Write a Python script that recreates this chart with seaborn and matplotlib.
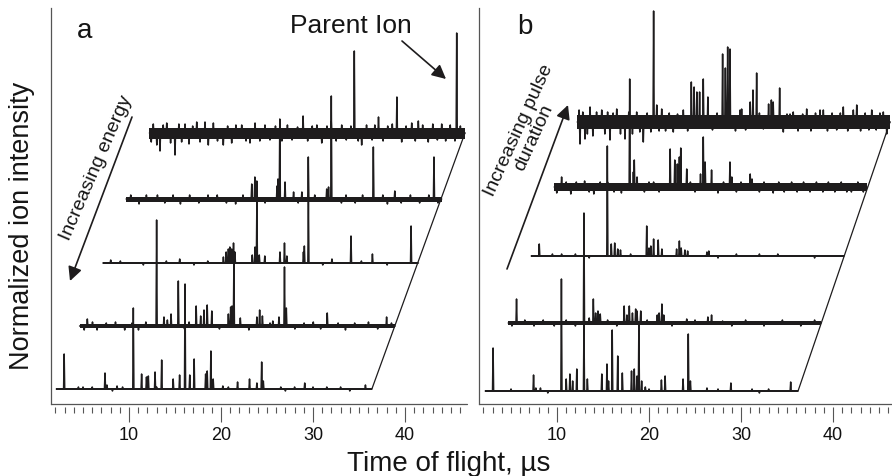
import matplotlib
matplotlib.use("Agg")
import matplotlib.pyplot as plt
from matplotlib.patches import FancyArrowPatch
import numpy as np
import pandas as pd
import seaborn as sns
from matplotlib.ticker import FixedLocator

sns.set_theme(style="white")
plt.rcParams["font.family"] = ["Liberation Sans", "DejaVu Sans"]

# ---------------- data (time of flight in µs, intensity in arbitrary units) -------------
xlabel = "Time of flight, µs"
ylabel = "Normalized ion intensity"
panel_labels = ["a", "b"]
major_ticks = [10, 20, 30, 40]
minor_ticks = list(range(2, 47))

# Panel a: increasing energy (bottom -> top)
a_tof_range = [2.1, 36.4]
a_peaks = [
    [(2.95, 35), (4.5, 2), (6.0, 2), (7.39, 16), (7.6, 4), (8.7, 3), (9.3, 2), (10.47, 81),
     (11.37, 15), (11.9, 12), (12.1, 13), (12.83, 17), (13.55, 29), (14.8, 10), (15.5, 14),
     (16.09, 105), (16.6, 14), (17.08, 30), (18.33, 15), (18.5, 18), (18.9, 38), (19.15, 10),
     (20.2, 3), (21.8, 7), (23.1, 10), (23.9, 6), (24.42, 27), (24.6, 8), (26.5, 2), (28.0, 2),
     (29.1, 6), (31.5, 2), (33.0, 2), (35.7, 4)],
    [(2.94, 7), (10.47, 106), (11.27, 9), (11.64, 6), (12.04, 12), (12.83, 45), (14.77, 20),
     (15.26, 10), (15.62, 16), (15.97, 21), (16.47, 15), (18.27, 12), (18.52, 19), (18.67, 20),
     (18.87, 63), (19.57, 8), (21.37, 9), (21.67, 16), (21.97, 10), (23.1, 5), (23.77, 9),
     (24.37, 59), (24.57, 18), (29.02, 13), (35.47, 9)],
    [(2.95, 3), (10.45, 4), (15.2, 6), (15.5, 11), (15.74, 14), (15.9, 16), (16.1, 14),
     (16.3, 20), (16.45, 11), (18.34, 8), (18.64, 16), (18.84, 62), (19.1, 8), (19.7, 7),
     (21.35, 11), (21.84, 20), (22.1, 7), (23.9, 11), (24.0, 17), (24.44, 64), (27.0, 4),
     (29.07, 27), (31.4, 9), (35.6, 37)],
    [(15.75, 15), (16.09, 22), (16.3, 18), (18.5, 13), (18.6, 20), (18.8, 80), (19.37, 17),
     (20.3, 7), (21.2, 7), (21.9, 42), (23.9, 10), (24.1, 12), (24.4, 103), (28.97, 52),
     (31.3, 8), (35.56, 42)],
    [(18.8, 17), (21.86, 12), (24.37, 82), (27.0, 16), (29.0, 36), (35.5, 100)],
]
a_noise_spikes = [
    [(5.0, 2), (8.2, -2), (13.0, 2), (20.8, 2), (27.0, -2), (30.0, 2), (34.0, -2)],
    [(2.6, -4), (3.5, 4), (4.0, -4), (5.0, 3), (6.0, 4), (7.0, -4), (7.8, 3), (8.5, -4),
     (9.3, 4), (13.5, -3), (14.0, 4), (17.3, -3), (20.5, -4), (22.8, 3), (25.5, -3),
     (26.5, 3), (27.5, 4), (28.3, -3), (30.2, 3), (31.0, -4), (32.0, 3), (33.5, 4),
     (34.5, -3), (36.0, 3)],
    [(4.0, 2), (6.5, -2), (9.0, 2), (12.0, -2), (13.5, 2), (26.0, -2), (30.2, 2), (33.0, -2)],
    [(2.6, 4), (3.5, -5), (4.3, 4), (5.5, 4), (6.3, -4), (7.2, 4), (8.0, -5), (9.0, 4),
     (10.0, -4), (11.0, 4), (12.0, 4), (13.0, -4), (14.0, -5), (14.8, 4), (17.2, -4),
     (20.8, -4), (22.6, 4), (25.5, -4), (26.0, 4), (27.0, -4), (27.8, 4), (30.0, 4),
     (30.5, -5), (32.0, -4), (33.0, 4), (34.0, -4), (35.0, 4), (36.0, -4)],
    [(2.3, -9), (2.52, 9), (2.9, -12), (3.25, -18), (3.6, 8), (3.98, 10), (4.4, -10),
     (4.88, -22), (5.3, 9), (5.6, -9), (5.97, 9), (6.4, -11), (6.8, 7), (7.24, 11), (7.6, -9),
     (8.14, 11), (8.5, -12), (9.05, 10), (9.5, -8), (10.13, -12), (10.6, 7), (11.04, -10),
     (11.5, 8), (12.13, 8), (12.6, -8), (13.03, -10), (13.58, 10), (14.1, -8), (14.66, 8),
     (15.2, -7), (15.8, 7), (16.5, -8), (17.1, 8), (17.6, -7), (18.2, 6), (19.3, -8),
     (19.8, 7), (20.3, 8), (20.83, -10), (21.4, 7), (22.4, -8), (23.0, 8), (23.5, -7),
     (24.0, 7), (24.8, -8), (25.17, -12), (25.7, 8), (26.3, -7), (26.6, 8), (27.5, -8),
     (28.0, 7), (28.5, 9), (29.52, -9), (30.0, 7), (30.61, 10), (31.0, -8), (31.33, 12),
     (31.8, 8), (32.41, -9), (32.9, 9), (33.4, -7), (33.87, 9), (34.3, -8), (34.8, 8),
     (35.31, -8), (35.9, 7)],
]
a_noise_level = [0.8, 2.3, 1.2, 2.5, 5.5]

# Panel b: increasing pulse duration (bottom -> top)
b_tof_range = [2.2, 36.2]
b_peaks = [
    [(3.05, 43), (7.45, 16), (7.7, 3), (8.2, 3), (10.48, 112), (11.0, 12), (11.4, 17),
     (11.7, 10), (12.15, 22), (12.93, 67), (13.3, 12), (14.87, 17), (15.43, 27), (15.6, 10),
     (16.0, 61), (16.6, 35), (17.1, 18), (18.1, 20), (18.4, 22), (18.7, 15), (18.9, 67),
     (19.2, 10), (19.6, 4), (21.35, 11), (21.75, 15), (23.7, 12), (24.27, 57), (24.5, 10),
     (26.3, 3), (28.9, 8), (31.2, 2), (33.0, 2), (35.4, 9)],
    [(3.1, 24), (10.43, 110), (11.0, 5), (11.45, 24), (11.7, 10), (11.95, 12), (12.2, 9),
     (14.8, 17), (15.1, 8), (15.36, 17), (15.7, 10), (16.05, 14), (16.2, 12), (16.6, 12),
     (18.4, 8), (18.6, 10), (18.9, 19), (19.1, 8), (21.6, 4), (23.9, 6), (24.3, 8), (25.5, 2)],
    [(3.07, 12), (5.5, 2), (7.0, 2), (10.47, 110), (10.9, 12), (11.27, 13), (11.6, 7),
     (11.9, 6), (14.75, 30), (15.0, 8), (15.2, 10), (15.5, 17), (16.0, 16), (16.4, 7),
     (18.0, 7), (18.3, 15), (18.5, 8), (18.9, 6), (19.2, 5), (21.3, 4), (21.5, 5), (24.5, 2),
     (27.0, 2)],
    [(3.0, 10), (10.4, 108), (10.8, 15), (10.9, 27), (11.2, 10), (14.8, 38), (15.3, 27),
     (15.58, 23), (15.8, 30), (15.95, 39), (16.6, 18), (18.1, 13), (18.4, 50), (18.6, 25),
     (19.3, 17), (21.3, 25), (21.5, 10), (23.5, 13), (23.7, 8)],
    [(10.5, 111), (14.6, 40), (14.9, 35), (15.2, 30), (15.5, 30), (15.9, 43), (16.4, 25),
     (18.0, 68), (18.3, 54), (18.55, 75), (18.8, 73), (21.0, 20), (21.3, 32), (21.7, 49),
     (23.0, 18), (23.3, 22), (23.5, 20), (24.2, 34)],
]
b_noise_spikes = [
    [(5.0, 2), (9.0, -2), (20.0, 2), (27.5, 2), (32.0, -2)],
    [(2.6, -3), (4.0, 3), (5.0, -3), (6.0, 3), (7.2, -3), (8.5, 3), (9.5, -3), (13.0, 3),
     (14.0, -3), (17.3, 3), (20.0, -3), (22.5, 3), (26.5, -3), (28.0, 3), (30.0, -3),
     (32.0, 3), (34.0, -3), (35.5, 3)],
    [(4.5, 2), (8.5, -2), (13.0, 2), (22.5, -2), (29.0, 2), (33.0, -2)],
    [(2.47, -6), (3.5, 5), (4.0, -7), (4.6, 5), (5.5, 6), (6.0, -5), (6.5, -7), (7.2, 5),
     (8.0, 5), (8.7, -5), (9.5, -6), (12.0, -5), (12.5, 5), (13.0, 5), (13.6, -5), (17.0, 5),
     (17.5, -5), (20.0, -6), (20.6, 5), (22.0, -5), (22.5, 5), (24.5, -5), (25.0, 5),
     (26.0, -6), (26.6, 5), (27.2, -5), (28.0, 5), (28.6, -5), (29.3, 5), (30.0, -5),
     (30.7, 5), (31.4, -5), (32.0, 5), (32.7, -5), (33.4, 5), (34.0, -5), (34.5, -5),
     (35.2, 5), (35.8, -5)],
    [(2.4, 12), (2.5, -22), (2.8, 10), (3.04, -17), (3.3, -12), (3.59, 15), (3.9, -14),
     (4.3, 10), (4.86, 12), (5.2, -12), (5.5, 10), (5.76, -18), (6.1, 9), (6.49, 13),
     (6.9, -12), (7.39, -17), (7.8, 10), (8.2, -12), (8.66, 10), (9.0, -10), (9.38, -20),
     (9.8, 9), (10.2, -10), (10.84, 17), (11.1, -9), (11.38, 13), (11.8, -9), (12.2, 9),
     (12.64, -10), (13.1, 8), (13.73, 12), (14.2, -9), (16.9, -8), (17.4, 9), (19.4, -9),
     (19.9, 12), (20.07, 13), (20.5, -8), (22.0, 9), (22.43, -7), (24.6, -10), (25.0, 8),
     (25.33, 8), (25.68, 10), (26.2, -9), (26.7, 8), (27.14, 13), (27.6, -9), (28.1, 9),
     (28.59, 12), (28.95, 12), (29.4, -9), (29.9, 9), (30.4, -8), (30.8, 9), (31.12, 15),
     (31.6, -9), (32.21, 12), (32.58, 17), (33.0, -9), (33.5, 9), (33.9, -8), (34.21, 12),
     (34.7, -8), (35.1, 9), (35.47, 10), (35.84, -12)],
]
b_noise_level = [0.8, 1.8, 0.8, 3.8, 6.8]

# ---------------- layout / style -------------
INK = "#1e1c1d"
AXC = "#555555"
W, H = 892, 477
a_dx, a_base = 2.53, [15, 78, 141, 205, 271]
b_dx, b_base = 2.5, [13, 81, 148, 217, 282]
PEAK_HW = 0.06
XLIM = (1.52, 46.74)
YLIM = (0, 396)


def fx(px):
    return px / W


def fy(py):
    return 1 - py / H


def trace_frame(peaks, spikes, tof_range, dx, base, k):
    pts = sorted(list(peaks) + list(spikes))
    xs = [tof_range[0]]
    ys = [0.0]
    for t, h in pts:
        xs += [t - PEAK_HW, t, t + PEAK_HW]
        ys += [0.0, h, 0.0]
    xs.append(tof_range[1])
    ys.append(0.0)
    return pd.DataFrame({"x": np.array(xs) + k * dx, "y": np.array(ys) + base, "trace": k})


def draw_panel(ax, peaks, spikes, noise, tof_range, dx, bases):
    frames = [trace_frame(peaks[k], spikes[k], tof_range, dx, bases[k], k) for k in range(len(peaks))]
    df = pd.concat(frames, ignore_index=True)
    for k in range(len(peaks)):
        x0, x1 = tof_range[0] + k * dx, tof_range[1] + k * dx
        ax.fill_between([x0, x1], bases[k] - noise[k], bases[k] + noise[k], color=INK, lw=0)
    sns.lineplot(data=df, x="x", y="y", units="trace", estimator=None, sort=False,
                 color=INK, linewidth=1.1, ax=ax, legend=False)
    n = len(peaks) - 1
    ax.plot([tof_range[1], tof_range[1] + n * dx], [bases[0], bases[n]], color=INK, lw=0.9)
    ax.set_xlim(*XLIM)
    ax.set_ylim(*YLIM)
    ax.set_xlabel("")
    ax.set_ylabel("")
    ax.set_yticks([])
    ax.xaxis.set_major_locator(FixedLocator(major_ticks))
    ax.xaxis.set_minor_locator(FixedLocator(minor_ticks))
    ax.tick_params(axis="x", which="major", direction="out", length=10.5, width=0.8,
                   color=AXC, pad=3.0, labelsize=13, labelcolor="#111111", bottom=True)
    ax.tick_params(axis="x", which="minor", direction="out", length=4.5, width=0.8,
                   color=AXC, bottom=True)
    for s in ["top", "right"]:
        ax.spines[s].set_visible(False)
    ax.spines["left"].set_color(AXC)
    ax.spines["left"].set_linewidth(0.9)
    ax.spines["bottom"].set_position(("outward", 2))
    ax.spines["bottom"].set_linewidth(0)
    ax.axhline(YLIM[0], color=AXC, lw=0.9, clip_on=False)
    ax.set_facecolor("none")


fig = plt.figure(figsize=(W / 100, H / 100), dpi=100)
fig.patch.set_facecolor("white")
axw = 416 / W
axb = 1 - 405 / H
axh = (405 - 9) / H
ax_a = fig.add_axes([51 / W, axb, axw, axh])
ax_b = fig.add_axes([479 / W, axb, axw, axh])

draw_panel(ax_a, a_peaks, a_noise_spikes, a_noise_level, a_tof_range, a_dx, a_base)
draw_panel(ax_b, b_peaks, b_noise_spikes, b_noise_level, b_tof_range, b_dx, b_base)

# labels
TXT = "#151515"
fig.text(fx(449), fy(464), xlabel, ha="center", va="center", fontsize=20, color=TXT)
fig.text(fx(22), fy(226), ylabel, ha="center", va="center", rotation=90, fontsize=19.5, color=TXT)
fig.text(fx(85), fy(31), panel_labels[0], ha="center", va="center", fontsize=20, color=TXT)
fig.text(fx(525), fy(27), panel_labels[1], ha="center", va="center", fontsize=20, color=TXT)

fig.text(fx(351), fy(26), "Parent Ion", ha="center", va="center", fontsize=19, color=TXT)
fig.text(fx(96), fy(168), "Increasing energy", ha="center", va="center", rotation=66.5,
         rotation_mode="anchor", fontsize=14, color=TXT)
fig.text(fx(526), fy(134), "Increasing pulse\nduration", ha="center", va="center",
         multialignment="center", rotation=65.5, rotation_mode="anchor", fontsize=14,
         linespacing=0.95, color=TXT)


def arrow(tail, head):
    fig.add_artist(FancyArrowPatch((fx(tail[0]), fy(tail[1])), (fx(head[0]), fy(head[1])),
                                   transform=fig.transFigure,
                                   arrowstyle="-|>,head_length=0.6,head_width=0.3",
                                   mutation_scale=14, lw=1.2, color=INK,
                                   shrinkA=0, shrinkB=0))


arrow((402, 42), (446, 80))
arrow((132, 118), (70, 282))
arrow((507, 270), (568, 106))

fig.savefig("out.png", dpi=100, facecolor="white")
